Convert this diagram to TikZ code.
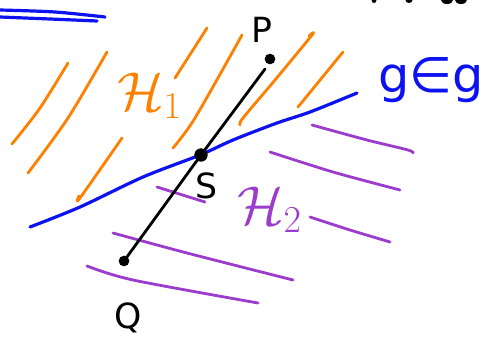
\documentclass[tikz,border=0pt]{standalone}
\usepackage{fontspec}
\setmainfont{DejaVu Sans}
\definecolor{gblue}{RGB}{12,18,240}
\definecolor{horange}{RGB}{255,128,0}
\definecolor{hpurple}{RGB}{155,60,205}
\begin{document}
\begin{tikzpicture}[x=0.75pt,y=-0.75pt,line cap=round,line join=round]
\tikzset{
  gline/.style={draw=gblue,line width=2.4pt},
  ohatch/.style={draw=horange,line width=2.1pt},
  phatch/.style={draw=hpurple,line width=2.1pt},
  seg/.style={draw=black,line width=2.1pt},
  dot/.style={circle,fill=black,inner sep=0pt,minimum size=#1},
  lbl/.style={text=black,font=\fontsize{26}{26}\selectfont},
  hlbl/.style={font=\fontsize{24}{24}\selectfont,scale=1.65,anchor=base west,inner sep=0pt},
}
\useasboundingbox (0,0) rectangle (492,350);
% top-left blue stroke
\draw[gline] plot[smooth] coordinates {(0,10) (55,12) (105,17)};
\draw[gline] plot[smooth] coordinates {(97,21) (50,19) (0,17)};
% top fragments
\fill (374,0) ellipse [x radius=2.5,y radius=3];
\fill (409,0) ellipse [x radius=3.5,y radius=3];
\fill (447,0) ellipse [x radius=6,y radius=4];
\fill (461,0) ellipse [x radius=6,y radius=4];
% orange hatching
\draw[ohatch] plot[smooth] coordinates {(68,63) (40,108) (12,144)};
\draw[ohatch] plot[smooth] coordinates {(107,52) (68,118) (28,173)};
\draw[ohatch] (207,28) -- (175,78);
\draw[ohatch] plot[smooth] coordinates {(242,35) (195,118) (173,148)};
\draw[ohatch] plot[smooth] coordinates {(309,36) (312,35) (275,80) (243,118) (240,125)};
\draw[ohatch] (343,52) -- (298,107);
\draw[ohatch] plot[smooth] coordinates {(122,138) (80,198) (79,196)};
% purple hatching
\draw[phatch] plot[smooth] coordinates {(312,125) (367,140) (408,150) (413,153)};
\draw[phatch] plot[smooth] coordinates {(270,152) (333,172) (400,190)};
\draw[phatch] (157,187) -- (205,202);
\draw[phatch] plot[smooth] coordinates {(310,217) (350,230) (390,242)};
\draw[phatch] plot[smooth] coordinates {(113,233) (187,253) (293,280)};
\draw[phatch] plot[smooth] coordinates {(87,266) (133,280) (258,303)};
% line g
\draw[gline] plot[smooth] coordinates {(30,227) (80,207) (143,177) (200,155) (233,140) (277,123) (310,112) (357,93)};
% segment PQ
\node[dot=8pt] (P) at (270,59) {};
\node[dot=10pt] (S) at (201,155) {};
\node[dot=8pt] (Q) at (124,261) {};
\coordinate (Ptip) at (265,69);
\draw[seg] (Q.center) -- (S.center) -- (Ptip);
% labels
\node[lbl] (Plbl) at (262,30) {P};
\node[lbl] (Qlbl) at (128,318) {Q};
\node[lbl] (Slbl) at (206,186) {S};
\node[hlbl,text=horange] (H1) at (117,110) {$\mathcal{H}_1$};
\node[hlbl,text=hpurple] (H2) at (237,224) {$\mathcal{H}_2$};
\node[text=gblue,font=\fontsize{37}{37}\selectfont,anchor=base west,inner sep=0pt] (glbl) at (378,92) {g∈g};
\end{tikzpicture}
\end{document}
